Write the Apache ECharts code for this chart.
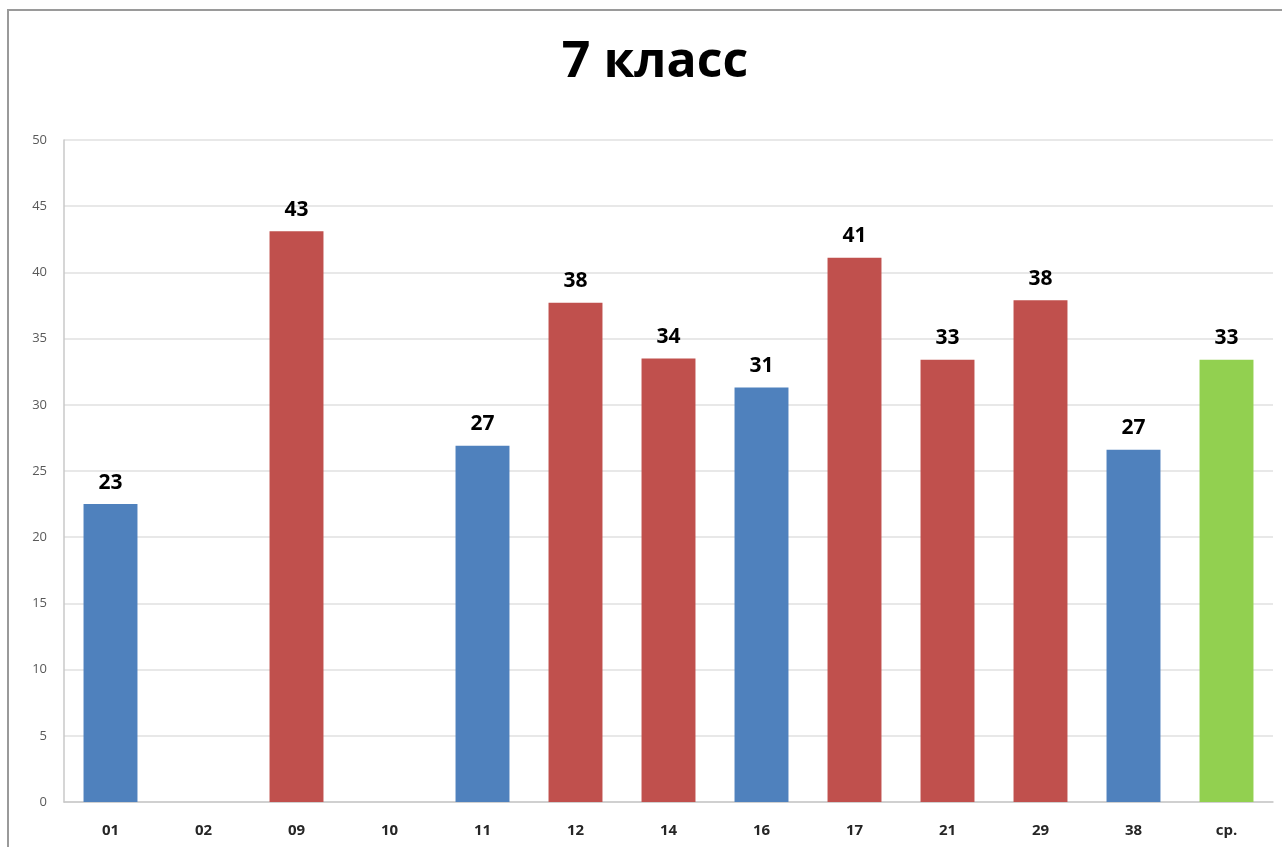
<!DOCTYPE html>
<html>
<head>
<meta charset="utf-8">
<script src="https://cdn.jsdelivr.net/npm/echarts@6/dist/echarts.min.js"></script>
<style>
html,body{margin:0;padding:0;background:#fff;overflow:hidden;width:1282px;height:847px;}
#frame{position:absolute;left:7px;top:9px;width:1400px;height:1000px;border:2px solid #9a9a9a;box-sizing:border-box;}
#chart{position:absolute;left:0;top:0;width:1282px;height:847px;}
</style>
</head>
<body>
<div id="frame"></div>
<div id="chart"></div>
<script>
const titleText = '7 класс';
const categories = ['01','02','09','10','11','12','14','16','17','21','29','38','ср.'];
const values = [22.5, null, 43.1, null, 26.9, 37.7, 33.5, 31.3, 41.1, 33.4, 37.9, 26.6, 33.4];
const barKind = ['blue', null, 'red', null, 'blue', 'red', 'red', 'blue', 'red', 'red', 'red', 'blue', 'green'];
const yTicks = [0, 5, 10, 15, 20, 25, 30, 35, 40, 45, 50];

const palette = { blue: '#4F81BD', red: '#C0504D', green: '#92D050' };

const chart = echarts.init(document.getElementById('chart'), null, { renderer: 'canvas' });
chart.setOption({
  backgroundColor: 'transparent',
  animation: false,
  title: {
    text: titleText,
    left: 650,
    textAlign: 'center',
    top: 33,
    textStyle: { fontFamily: 'Open Sans', fontWeight: 'bold', fontSize: 50, color: '#000' }
  },
  grid: { left: 64, right: 9, top: 140, bottom: 45, containLabel: false },
  xAxis: {
    type: 'category',
    data: categories,
    axisLine: { show: true, lineStyle: { color: '#c8c8c8', width: 1.5 } },
    axisTick: { show: false },
    axisLabel: { fontFamily: 'Open Sans', fontWeight: 'bold', fontSize: 15, color: '#262626', margin: 21 }
  },
  yAxis: {
    type: 'value',
    min: yTicks[0],
    max: yTicks[yTicks.length - 1],
    interval: yTicks[1] - yTicks[0],
    axisLine: { show: true, lineStyle: { color: '#c8c8c8', width: 1.5 } },
    axisTick: { show: false },
    splitLine: { lineStyle: { color: '#e0e0e0', width: 1.5 } },
    axisLabel: { fontFamily: 'Open Sans', fontSize: 13, color: '#595959', margin: 17 }
  },
  series: [{
    type: 'bar',
    data: values,
    barWidth: '58%',
    itemStyle: {
      color: function (p) { return palette[barKind[p.dataIndex]] || '#4F81BD'; }
    },
    label: {
      show: true,
      position: 'top',
      distance: 11,
      fontFamily: 'Open Sans',
      fontWeight: 'bold',
      fontSize: 21,
      color: '#000',
      formatter: function (p) { return p.value == null ? '' : String(Math.round(p.value)); }
    }
  }]
});
</script>
</body>
</html>
